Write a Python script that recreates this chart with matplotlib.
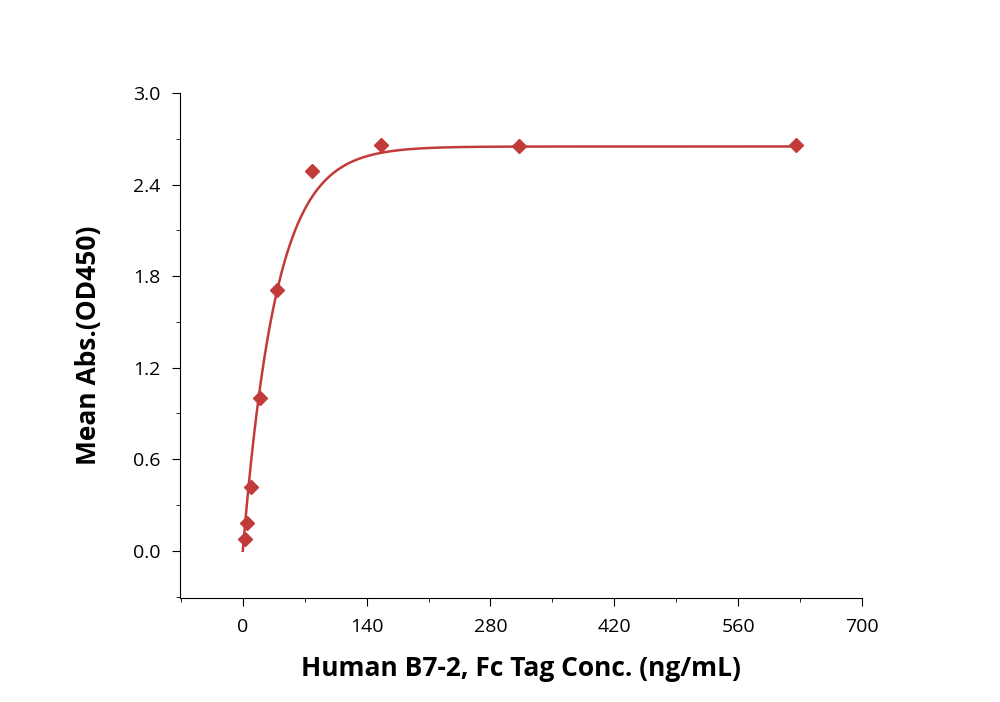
import numpy as np
import matplotlib.pyplot as plt
from matplotlib.ticker import MultipleLocator

plt.rcParams["font.family"] = "Open Sans"

# measured points
conc = [2.44, 4.88, 9.77, 19.5, 39.0, 78.0, 156.0, 312.0, 625.0]
od450 = [0.08, 0.18, 0.42, 1.00, 1.71, 2.49, 2.66, 2.65, 2.66]

# fitted saturation curve parameters (estimated from the drawn curve)
fit_bottom, fit_top, fit_rate = 0.0, 2.65, 0.0266

color = "#C23A3A"

fig = plt.figure(figsize=(10, 7.02), dpi=100)
ax = fig.add_axes([0.18, 0.148, 0.682, 0.7194])

xs = np.linspace(0.0, 625, 800)
ys = fit_bottom + (fit_top - fit_bottom) * (1 - np.exp(-fit_rate * xs))
ax.plot(xs, ys, color=color, lw=1.8)
ax.plot(conc, od450, "D", color=color, ms=7)

ax.set_xlim(-71, 700)
ax.set_ylim(-0.31, 3.0)
ax.xaxis.set_major_locator(MultipleLocator(140))
ax.xaxis.set_minor_locator(MultipleLocator(70))
ax.yaxis.set_major_locator(MultipleLocator(0.6))
ax.yaxis.set_minor_locator(MultipleLocator(0.3))
ax.yaxis.set_major_formatter(plt.FormatStrFormatter("%.1f"))
ax.tick_params(which="major", direction="out", length=6, labelsize=14, pad=8)
ax.tick_params(which="minor", direction="out", length=3)
for s in ("top", "right"):
    ax.spines[s].set_visible(False)

ax.set_xlabel("Human B7-2, Fc Tag Conc. (ng/mL)", fontsize=19, fontweight="bold", labelpad=14)
ax.set_ylabel("Mean Abs.(OD450)", fontsize=19, fontweight="bold", labelpad=22)

fig.savefig("out.png", dpi=100)
